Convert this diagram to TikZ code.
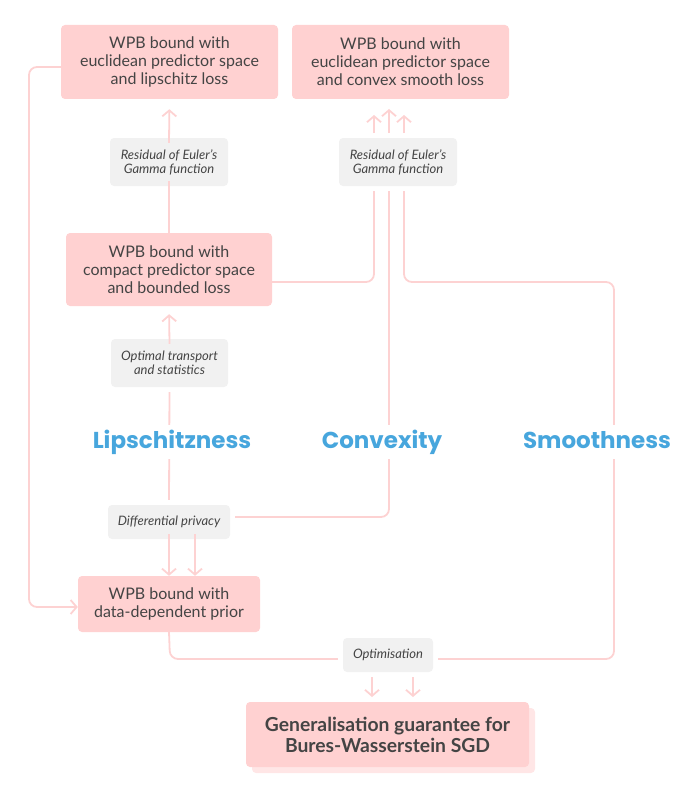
\documentclass[tikz,border=0pt]{standalone}
\usepackage{fontspec}
\setmainfont{Lato}
\newfontfamily\headfont{Poppins}
\usetikzlibrary{arrows.meta,calc}
\definecolor{nodefill}{HTML}{FFD1D1}
\definecolor{shadowfill}{HTML}{FFE6E6}
\definecolor{linecol}{HTML}{FDD2D2}
\definecolor{labfill}{HTML}{F1F1F1}
\definecolor{txt}{HTML}{444444}
\definecolor{headblue}{HTML}{47A6DD}
\tikzset{
  box/.style={rectangle, rounded corners=4pt, fill=nodefill, text=txt, align=center,
    font=\fontsize{16}{18}\selectfont, inner sep=0pt},
  lab/.style={rectangle, rounded corners=4pt, fill=labfill, text=txt, align=center,
    font=\fontsize{13}{14}\selectfont\itshape, inner sep=0pt},
  head/.style={fill=white, text=headblue, font=\headfont\fontsize{23}{26}\selectfont\bfseries,
    inner xsep=2pt, inner ysep=6pt, text height=17pt, text depth=5pt},
  conn/.style={draw=linecol, line width=1.8pt, rounded corners=8pt},
  arr/.style={conn, -{Straight Barb[length=6pt,width=14pt]}},
}
\begin{document}
\begin{tikzpicture}[x=1pt,y=-1pt]
\useasboundingbox (0,0) rectangle (676,797);
% main boxes
\node[box, minimum width=217pt, minimum height=74pt] (A) at (169.5,62) {WPB bound with\\euclidean predictor space\\and lipschitz loss};
\node[box, minimum width=217pt, minimum height=74pt] (B) at (400.5,62) {WPB bound with\\euclidean predictor space\\and convex smooth loss};
\node[box, minimum width=206pt, minimum height=73pt] (C) at (169,269.5) {WPB bound with\\compact predictor space\\and bounded loss};
\node[box, minimum width=182pt, minimum height=56pt] (D) at (169,604) {WPB bound with\\data-dependent prior};
\fill[shadowfill, rounded corners=4pt] (252,708) rectangle (535,773);
\node[box, minimum width=283pt, minimum height=65pt, font=\fontsize{19.3}{21}\selectfont\bfseries] (E) at (387.5,734.5) {Generalisation guarantee for\\Bures-Wasserstein SGD};
% labels
\node[lab, minimum width=118pt, minimum height=48pt] (L1) at (169,162) {Residual of Euler's\\Gamma function};
\node[lab, minimum width=118pt, minimum height=48pt] (L2) at (398,162) {Residual of Euler's\\Gamma function};
\node[lab, minimum width=117pt, minimum height=48pt] (L3) at (169.5,363) {Optimal transport\\and statistics};
\node[lab, minimum width=122pt, minimum height=34pt] (L4) at (169,522) {Differential privacy};
\node[lab, minimum width=90pt, minimum height=34pt] (L5) at (388,655) {Optimisation};
% coordinates
\coordinate (l1) at (29,67);
\coordinate (l2) at (29,607);
\coordinate (c1) at (374,282);
\coordinate (v1) at (389,517);
\coordinate (r1) at (404,282);
\coordinate (r2) at (614,282);
\coordinate (r3) at (614,659);
\coordinate (d1) at (170,659);
% left loop
\draw[arr] ([yshift=-5pt]A.west) -- (l1) -- (l2) -- ([yshift=-3pt]D.west) ;
% Lipschitz chain
\draw[conn] ([yshift=5pt]L1.south) -- (C.north);
\draw[arr, shorten >=10pt] ([yshift=-5pt]L1.north) -- (A.south);
\draw[arr, shorten >=8pt] ([yshift=-5pt]L3.north) -- (C.south);
\draw[conn, shorten <=5pt, shorten >=5pt] (L3.south) -- (L4.north);
\draw[arr] ([yshift=5pt]L4.south) -- (D.north);
\draw[arr] ([xshift=26pt,yshift=5pt]L4.south) -- ([xshift=26pt]D.north);
% right side
\draw[conn] ([yshift=-12.5pt]C.east) -- (c1) -- (c1 |- 0,191);
\draw[conn] (v1 |- 0,191) -- (v1) -- ([xshift=5pt]L4.east |- v1) ;
\draw[conn] (r1 |- 0,191) -- (r1) -- (r2) -- (r3) -- ([xshift=5pt]L5.east |- r3);
\draw[arr] (374,133) -- (374,115);
\draw[arr] (389,133) -- (389,109);
\draw[arr] (404,133) -- (404,115);
% bottom
\draw[conn] (D.south) -- (d1) -- ([xshift=-5pt]L5.west |- d1);
\draw[arr] (372,677) -- (372,697);
\draw[arr] (413,677) -- (413,697);
% headings
\node[head] (H1) at (172,442) {Lipschitzness};
\node[head] (H2) at (382,442) {Convexity};
\node[head] (H3) at (597,442) {Smoothness};
\end{tikzpicture}
\end{document}
